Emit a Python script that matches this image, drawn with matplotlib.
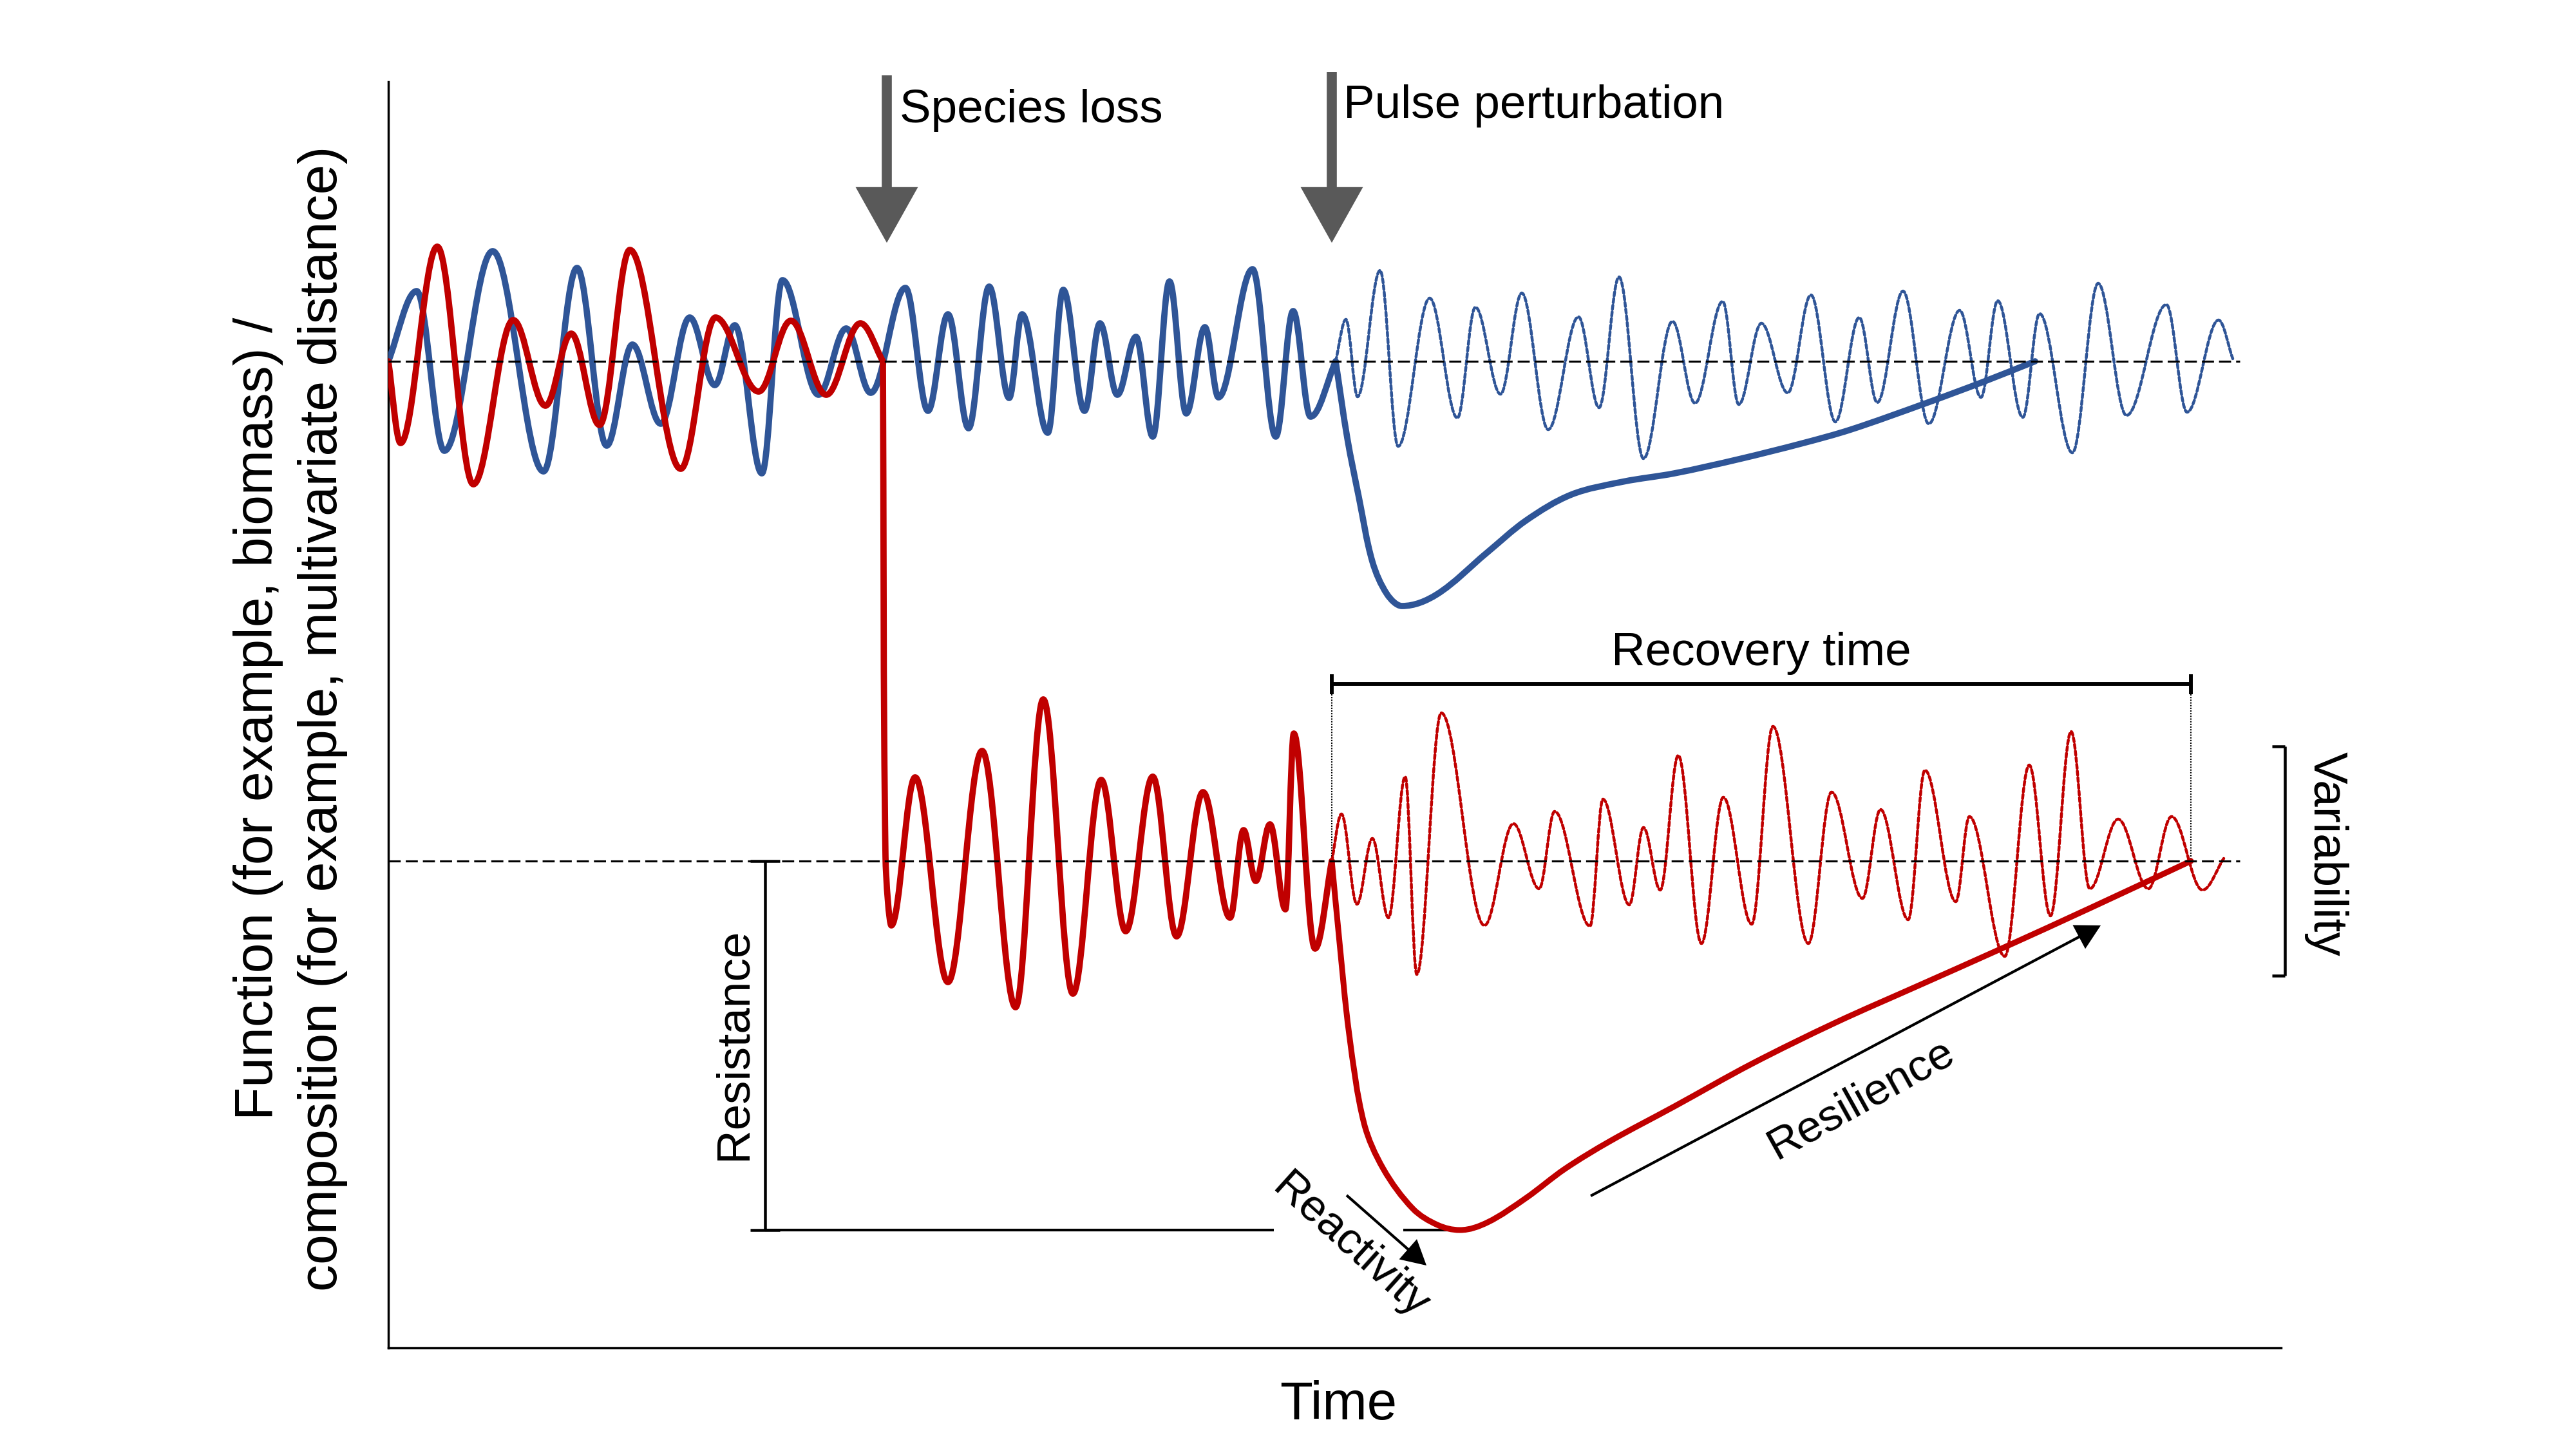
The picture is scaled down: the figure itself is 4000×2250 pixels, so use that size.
import numpy as np
import matplotlib.pyplot as plt
from matplotlib.path import Path
from matplotlib.patches import PathPatch, FancyArrowPatch, ArrowStyle

plt.rcParams['font.family'] = ['Liberation Sans', 'DejaVu Sans']

BLUE = '#2f5597'
RED = '#c00000'
GREY = '#595959'

# ---------------- data (time / level) ----------------
baseline_top = 561
baseline_low = 1337
baseline_end = 3478
t_loss = 1377        # species loss
t_pulse = 2068       # pulse perturbation

# blue community, before the pulse (extrema)
blue_t = [603, 647, 690, 765, 844, 896, 942, 982, 1026, 1071, 1110, 1141, 1183, 1215,
          1271, 1314, 1352, 1406, 1441, 1472, 1504, 1536, 1567, 1587, 1627, 1651, 1684,
          1708, 1735, 1764, 1790, 1816, 1842, 1871, 1892, 1945, 1981, 2008, 2035, 2074]
blue_v = [561, 452, 700, 390, 732, 416, 692, 535, 658, 493, 598, 505, 735, 435,
          613, 510, 610, 447, 638, 488, 665, 445, 618, 488, 672, 450, 638,
          502, 613, 523, 678, 437, 642, 508, 617, 418, 678, 483, 647, 561]

# blue, response to the pulse
blue_rec_t = [2074, 2092, 2110, 2131, 2154, 2177, 2231, 2308, 2370, 2440, 2520, 2600,
              2700, 2800, 2874, 2988, 3082, 3160]
blue_rec_v = [561, 680, 772, 872, 923, 941, 923, 859, 808, 768, 748, 735,
              713, 688, 667, 627, 592, 561]

# blue, undisturbed (dotted)
blue_dot_t = [2074, 2090, 2108, 2143, 2171, 2220, 2263, 2291, 2330, 2363, 2404, 2451,
              2483, 2514, 2552, 2597, 2632, 2675, 2700, 2735, 2776, 2812, 2850, 2887,
              2915, 2955, 2995, 3043, 3076, 3102, 3141, 3167, 3218, 3258, 3302, 3364,
              3396, 3445, 3467]
blue_dot_v = [561, 496, 616, 420, 693, 463, 649, 477, 612, 455, 667, 492,
              633, 430, 712, 499, 626, 468, 628, 502, 610, 458, 655, 493,
              625, 452, 658, 482, 617, 467, 648, 487, 703, 440, 645, 473,
              640, 497, 557]

# red community, before species loss
red_pre_t = [603, 622, 679, 735, 797, 847, 887, 931, 978, 1057, 1111, 1178, 1228, 1283, 1336, 1371]
red_pre_v = [561, 688, 383, 752, 497, 630, 518, 660, 388, 728, 493, 608, 498, 613, 502, 561]

# red, after species loss
red_mid_t = [1371, 1375, 1384, 1421, 1472, 1525, 1577, 1620, 1666, 1710, 1748, 1790,
             1827, 1868, 1910, 1931, 1950, 1972, 1996, 2009, 2042, 2068]
red_mid_v = [561, 1330, 1437, 1207, 1525, 1166, 1564, 1086, 1543, 1211, 1446, 1206,
             1454, 1230, 1425, 1289, 1368, 1280, 1412, 1139, 1473, 1337]

# red, response to the pulse
red_rec_t = [2068, 2079, 2095, 2118, 2148, 2194, 2232, 2267, 2310, 2370, 2430, 2500,
             2600, 2720, 2850, 2980, 3110, 3250, 3402]
red_rec_v = [1337, 1453, 1606, 1744, 1815, 1877, 1902, 1910, 1898, 1860, 1815, 1772,
             1718, 1652, 1588, 1530, 1472, 1408, 1337]

# red, undisturbed (dotted)
red_dot_t = [2068, 2083, 2107, 2131, 2156, 2182, 2200, 2238, 2305, 2350, 2390, 2414,
             2469, 2489, 2530, 2552, 2578, 2606, 2642, 2676, 2720, 2753, 2808, 2844,
             2892, 2920, 2963, 2989, 3037, 3058, 3113, 3151, 3184, 3216, 3245, 3289,
             3336, 3372, 3420, 3453]
red_dot_v = [1337, 1264, 1404, 1302, 1425, 1206, 1513, 1107, 1437, 1279, 1380, 1260,
             1438, 1241, 1405, 1285, 1382, 1173, 1465, 1238, 1435, 1128, 1465, 1230,
             1395, 1257, 1428, 1196, 1400, 1268, 1485, 1188, 1422, 1136, 1380, 1272,
             1380, 1268, 1382, 1333]

recovery_end = 3402
red_min = 1910


# smooth bezier path through the read points (flat tangent at the extrema)
def smooth_path(t, v):
    p = np.column_stack([t, v]).astype(float)
    n = len(p)
    tang = np.zeros_like(p)
    flat = np.zeros(n, bool)
    for i in range(n):
        if 0 < i < n - 1 and (p[i, 1] - p[i-1, 1]) * (p[i+1, 1] - p[i, 1]) < 0:
            flat[i] = True
            tang[i] = (1.0, 0.0)
        else:
            d = p[min(i+1, n-1)] - p[max(i-1, 0)]
            tang[i] = d / np.hypot(*d)
    verts = [p[0]]
    codes = [Path.MOVETO]
    for i in range(n - 1):
        dx = p[i+1, 0] - p[i, 0]
        L = np.hypot(*(p[i+1] - p[i]))
        s0 = 0.36 * dx if flat[i] else L / 3
        s1 = 0.36 * dx if flat[i+1] else L / 3
        verts += [p[i] + tang[i] * s0, p[i+1] - tang[i+1] * s1, p[i+1]]
        codes += [Path.CURVE4] * 3
    return Path(verts, codes)


def draw(ax, t, v, color, lw, ls='-', z=3):
    ax.add_patch(PathPatch(smooth_path(t, v), fill=False, edgecolor=color, lw=lw,
                           ls=ls, capstyle='round', joinstyle='round', zorder=z))


fig = plt.figure(figsize=(16, 9), dpi=250)
ax = fig.add_axes([603/4000, 1 - 2093/2250, (3542-603)/4000, (2093-127)/2250])
ax.set_xlim(603, 3542)
ax.set_ylim(2093, 127)
ax.set_xticks([])
ax.set_yticks([])
for s in ['top', 'right']:
    ax.spines[s].set_visible(False)
for s in ['left', 'bottom']:
    ax.spines[s].set_linewidth(1.0)

# curves
dots = (0, (1.4, 0.9))
draw(ax, blue_dot_t, blue_dot_v, BLUE, 1.3, dots, 2)
draw(ax, red_dot_t, red_dot_v, RED, 1.3, dots, 2)
draw(ax, blue_t, blue_v, BLUE, 2.8)
draw(ax, blue_rec_t, blue_rec_v, BLUE, 2.8)
draw(ax, red_pre_t, red_pre_v, RED, 2.8, z=4)
draw(ax, red_mid_t, red_mid_v, RED, 2.8, z=4)
draw(ax, red_rec_t, red_rec_v, RED, 2.6, z=4)

# reference levels
ax.hlines([baseline_top, baseline_low], 603, baseline_end, colors='black', lw=0.9,
          linestyles=[(0, (6, 2.5))], zorder=5)

# perturbation arrows
big = ArrowStyle.Simple(head_length=25, head_width=28, tail_width=4.5)
for tx, top in [(t_loss, 117), (t_pulse, 112)]:
    ax.add_patch(FancyArrowPatch((tx, top), (tx, 377), arrowstyle=big, mutation_scale=1,
                                 fc=GREY, ec='none', lw=0, shrinkA=0, shrinkB=0,
                                 clip_on=False, zorder=6))
ax.text(1397, 190, 'Species loss', fontsize=21, ha='left', va='baseline')
ax.text(2086, 183, 'Pulse perturbation', fontsize=21, ha='left', va='baseline')

# recovery time
ax.hlines(1062, t_pulse, recovery_end, colors='black', lw=1.7, zorder=6)
ax.vlines([t_pulse, recovery_end], 1047, 1078, colors='black', lw=1.7, zorder=6)
ax.vlines([t_pulse, recovery_end], 1078, baseline_low, colors='black', lw=0.6,
          linestyles=[(0, (1, 1))], zorder=1)
ax.text(2735, 1033, 'Recovery time', fontsize=21, ha='center', va='baseline')

# resistance
ax.vlines(1188, baseline_low, red_min, colors='black', lw=1.3)
ax.hlines([baseline_low, red_min], 1165, 1211, colors='black', lw=1.3)
ax.hlines(red_min, 1188, 1978, colors='black', lw=1.2)
ax.hlines(red_min, 2179, 2265, colors='black', lw=1.2)
ax.text(1140, 1621, 'Resistance', fontsize=21, rotation=90, ha='center', va='center')

# reactivity / resilience
small = ArrowStyle.Simple(head_length=11, head_width=12, tail_width=1.2)
ax.add_patch(FancyArrowPatch((2091, 1856), (2215, 1965), arrowstyle=small, mutation_scale=1,
                             fc='black', ec='none', lw=0, shrinkA=0, shrinkB=0, zorder=6))
ax.add_patch(FancyArrowPatch((2470, 1857), (3262, 1437), arrowstyle=small, mutation_scale=1,
                             fc='black', ec='none', lw=0, shrinkA=0, shrinkB=0, zorder=6))
ax.text(2097, 1935, 'Reactivity', fontsize=20, rotation=-42, ha='center', va='center',
        rotation_mode='anchor')
ax.text(2890, 1707, 'Resilience', fontsize=20, rotation=29, ha='center', va='center',
        rotation_mode='anchor')

# variability
ax.vlines(3548, 1159, 1515, colors='black', lw=1.3, clip_on=False)
ax.hlines([1159, 1515], 3528, 3548, colors='black', lw=1.3, clip_on=False)
ax.text(3612, 1326, 'Variability', fontsize=21.5, rotation=-90, ha='center', va='center')

# axis labels
ax.set_ylabel('Function (for example, biomass) /\ncomposition (for example, multivariate distance)',
              fontsize=24.2, linespacing=1.35, ha='center', va='center')
ax.yaxis.set_label_coords(451, 1116, transform=ax.transData)
ax.set_xlabel('Time', fontsize=24, va='center')
ax.xaxis.set_label_coords(2078, 2182, transform=ax.transData)

fig.savefig('out.png', dpi=250)
